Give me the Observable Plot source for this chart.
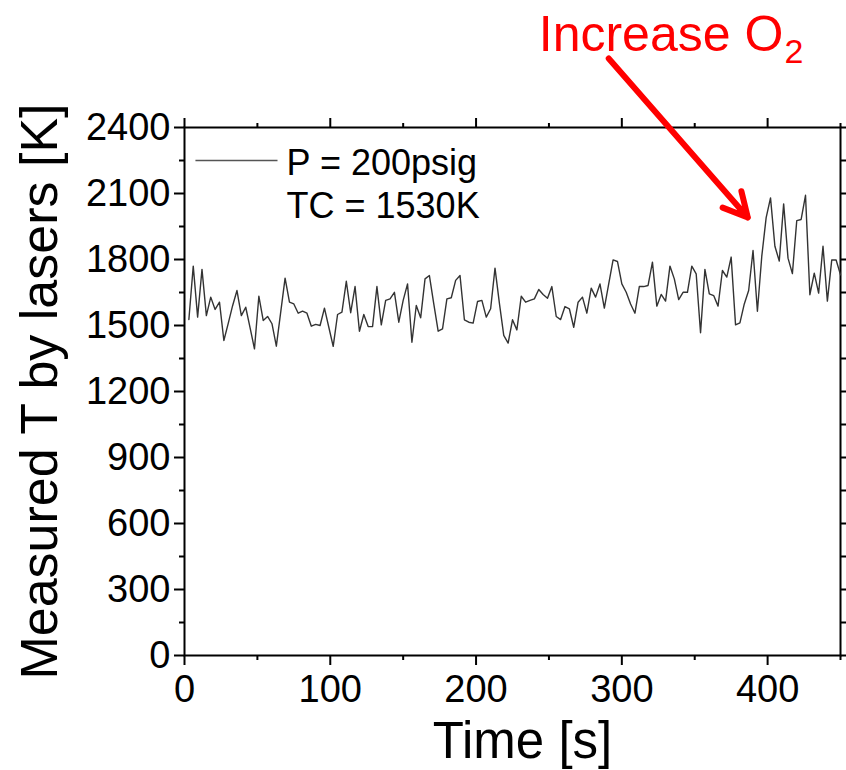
<!DOCTYPE html>
<html>
<head>
<meta charset="utf-8">
<script src="https://cdn.jsdelivr.net/npm/d3@7"></script>
<script src="https://cdn.jsdelivr.net/npm/@observablehq/plot@0.6"></script>
<style>
  html, body { margin: 0; padding: 0; background: #fff; }
</style>
</head>
<body>
<div id="chart"></div>
<script>
// Measured time series (s, K)
const time = [3,6,9,12,15,18,21,24,27,30,33,36,39,42,45,48,51,54,57,60,63,66,69,72,75,78,81,84,87,90,93,96,99,102,105,108,111,114,117,120,123,126,129,132,135,138,141,144,147,150,153,156,159,162,165,168,171,174,177,180,183,186,189,192,195,198,201,204,207,210,213,216,219,222,225,228,231,234,237,240,243,246,249,252,255,258,261,264,267,270,273,276,279,282,285,288,291,294,297,300,303,306,309,312,315,318,321,324,327,330,333,336,339,342,345,348,351,354,357,360,363,366,369,372,375,378,381,384,387,390,393,396,399,402,405,408,411,414,417,420,423,426,429,432,435,438,441,444,447,450];
const temp = [1527,1770,1538,1755,1545,1629,1573,1606,1432,1510,1590,1659,1545,1583,1489,1394,1633,1523,1541,1508,1406,1561,1715,1606,1598,1556,1565,1556,1497,1505,1500,1579,1492,1405,1550,1561,1701,1558,1677,1474,1550,1495,1495,1677,1503,1614,1621,1651,1515,1614,1689,1424,1591,1535,1712,1727,1598,1474,1485,1621,1626,1705,1727,1526,1515,1511,1609,1614,1538,1576,1761,1602,1455,1420,1526,1480,1633,1606,1614,1621,1664,1641,1624,1677,1541,1527,1586,1576,1492,1606,1629,1556,1670,1629,1689,1579,1689,1798,1791,1689,1651,1598,1556,1677,1677,1682,1788,1588,1641,1611,1770,1712,1618,1651,1651,1770,1735,1467,1755,1644,1636,1588,1750,1720,1811,1503,1512,1598,1659,1841,1565,1815,1990,2080,1860,1793,2053,1806,1736,1977,1982,2092,1640,1738,1647,1860,1611,1798,1798,1730];

// Axis ticks
const xMajorTicks = [0, 100, 200, 300, 400];
const xMinorTicks = [50, 150, 250, 350, 450];
const yMajorTicks = [0, 300, 600, 900, 1200, 1500, 1800, 2100, 2400];
const yMinorTicks = [150, 450, 750, 1050, 1350, 1650, 1950, 2250];

// Texts
const xTitle = "Time [s]";
const yTitle = "Measured T by lasers [K]";
const legendLabels = ["P = 200psig", "TC = 1530K"];
const noteLabel = "Increase O";
const noteSub = "2";

// Annotation anchors in data units
const legendLine = [{x1: 7.5, x2: 63.8, y: 2250}];
const legendText = [{x: 70, y: 2183, text: legendLabels[0]}, {x: 70, y: 1990, text: legendLabels[1]}];
const noteText = [{x: 243, y: 2750, text: noteLabel}];
const noteSubText = [{x: 411.5, y: 2691, text: noteSub}];
const noteArrow = [{x1: 291, y1: 2714, x2: 386.4, y2: 1991}];

const data = time.map((t, i) => ({t, T: temp[i]}));

const font = "'Liberation Sans', Arial, Helvetica, sans-serif";
const plain = d => String(d);

const chart = Plot.plot({
  width: 846,
  height: 770,
  marginLeft: 184,
  marginRight: 6,
  marginTop: 127,
  marginBottom: 115,
  x: {domain: [0, 450]},
  y: {domain: [0, 2400]},
  style: {fontFamily: font, background: "#fff", color: "#000", overflow: "visible"},
  marks: [
    Plot.axisX({anchor: "bottom", ticks: xMajorTicks, tickSize: 10, tickPadding: 10, fontSize: 38, strokeWidth: 2, tickFormat: plain, label: null}),
    Plot.axisX({anchor: "bottom", ticks: xMinorTicks, tickSize: 5, tickFormat: () => "", strokeWidth: 2, label: null}),
    Plot.axisX({anchor: "top", ticks: xMajorTicks, tickSize: 10, tickFormat: () => "", strokeWidth: 2, label: null}),
    Plot.axisX({anchor: "top", ticks: xMinorTicks, tickSize: 5, tickFormat: () => "", strokeWidth: 2, label: null}),
    Plot.axisY({anchor: "left", ticks: yMajorTicks, tickSize: 10, tickPadding: 4, fontSize: 38, strokeWidth: 2, tickFormat: plain, label: null}),
    Plot.axisY({anchor: "left", ticks: yMinorTicks, tickSize: 5, tickFormat: () => "", strokeWidth: 2, label: null}),
    Plot.axisY({anchor: "right", ticks: yMajorTicks, tickSize: 10, tickFormat: () => "", strokeWidth: 2, label: null}),
    Plot.axisY({anchor: "right", ticks: yMinorTicks, tickSize: 5, tickFormat: () => "", strokeWidth: 2, label: null}),
    Plot.frame({stroke: "#000", strokeWidth: 2}),
    Plot.line(data, {x: "t", y: "T", stroke: "#333", strokeWidth: 1.4}),
    Plot.link(legendLine, {x1: "x1", x2: "x2", y1: "y", y2: "y", stroke: "#555", strokeWidth: 1.5}),
    Plot.text(legendText, {x: "x", y: "y", text: "text", textAnchor: "start", lineAnchor: "bottom", fontSize: 36, fill: "#000"}),
    Plot.text([xTitle], {frameAnchor: "bottom", dx: 10, dy: 102, textAnchor: "middle", lineAnchor: "bottom", fontSize: 51, fill: "#000"}),
    Plot.text([yTitle], {frameAnchor: "left", rotate: -90, dx: -144, textAnchor: "middle", lineAnchor: "middle", fontSize: 52, fill: "#000"}),
    Plot.text(noteText, {x: "x", y: "y", text: "text", textAnchor: "start", lineAnchor: "bottom", fontSize: 50, fill: "#ff0000"}),
    Plot.text(noteSubText, {x: "x", y: "y", text: "text", textAnchor: "start", lineAnchor: "bottom", fontSize: 34, fill: "#ff0000"}),
    Plot.arrow(noteArrow, {x1: "x1", y1: "y1", x2: "x2", y2: "y2", stroke: "#ff0000", strokeWidth: 6, headLength: 6.75, headAngle: 55, bend: 0})
  ]
});

document.getElementById("chart").append(chart);
</script>
</body>
</html>
